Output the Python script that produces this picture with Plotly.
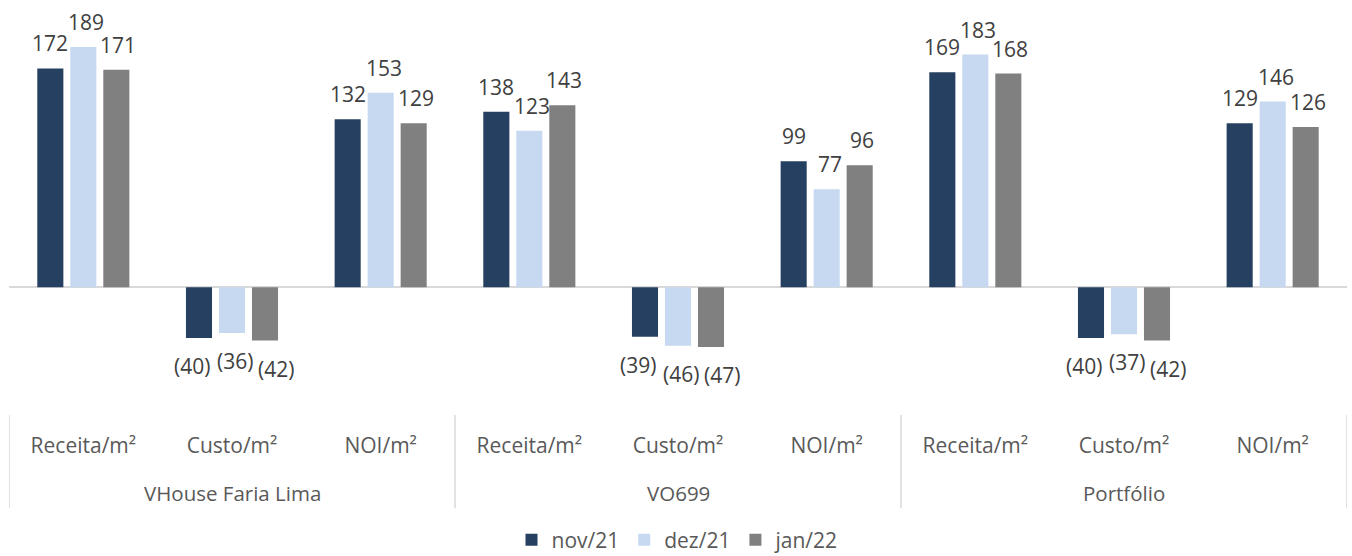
import plotly.graph_objects as go

groups = ["VHouse Faria Lima", "VO699", "Portfólio"]
metrics = ["Receita/m²", "Custo/m²", "NOI/m²"]
series_names = ["nov/21", "dez/21", "jan/22"]
nov21 = [172, -40, 132, 138, -39, 99, 169, -40, 129]
dez21 = [189, -36, 153, 123, -46, 77, 183, -37, 146]
jan22 = [171, -42, 129, 143, -47, 96, 168, -42, 126]
colors = ["#264061", "#C6D9F1", "#808080"]

series = [nov21, dez21, jan22]
cats = [m for g in groups for m in metrics]
xpos = list(range(len(cats)))

FONT = "Open Sans"
BARGAP = 0.334
slot = (1 - BARGAP) / 3
# small horizontal nudges (px) per series so neighbouring labels don't collide
NUDGE_POS = [0, 3, 2]
NUDGE_NEG = [-7, 3, 11]

fig = go.Figure()
for name, vals, col in zip(series_names, series, colors):
    fig.add_trace(go.Bar(x=xpos, y=vals, name=name, marker=dict(color=col, line=dict(width=0))))

annotations = []
for s, vals in enumerate(series):
    for i, v in enumerate(vals):
        txt = f"({abs(v)})" if v < 0 else f"{v}"
        annotations.append(dict(
            x=i + (s - 1) * slot, y=v, xref="x", yref="y", text=txt,
            showarrow=False, yanchor="middle", xanchor="center",
            yshift=25 if v >= 0 else -28,
            xshift=NUDGE_POS[s] if v >= 0 else NUDGE_NEG[s],
            font=dict(family=FONT, size=21, color="#404040")))

for gi, g in enumerate(groups):
    annotations.append(dict(
        x=gi * 3 + 1, y=-0.193, xref="x", yref="paper", text=g, showarrow=False,
        yanchor="middle", xanchor="center",
        font=dict(family=FONT, size=20.5, color="#595959")))

shapes = []
for b in [-0.5, 2.5, 5.5, 8.5]:
    shapes.append(dict(type="line", xref="x", yref="paper", x0=b, x1=b, y0=0, y1=-0.23,
                       line=dict(color="#d9d9d9", width=1.5)))

fig.update_layout(
    width=1352, height=556,
    margin=dict(l=9, r=5, t=10, b=141, autoexpand=False),
    barmode="group", bargap=BARGAP, bargroupgap=0.21,
    plot_bgcolor="white", paper_bgcolor="white",
    font=dict(family=FONT, size=20, color="#595959"),
    annotations=annotations, shapes=shapes,
    showlegend=True,
    legend=dict(orientation="h", x=0.5, xanchor="center", y=-0.309, yanchor="middle",
                font=dict(family=FONT, size=21, color="#595959"), itemwidth=30),
)
fig.update_xaxes(range=[-0.5, 8.5], tickmode="array", tickvals=xpos, ticktext=cats,
                 showgrid=False, zeroline=False, showline=False, ticks="", automargin=False,
                 ticklabelstandoff=16, tickfont=dict(family=FONT, size=21, color="#595959"))
fig.update_yaxes(range=[-100.5, 218], showgrid=False, showticklabels=False, ticks="",
                 automargin=False,
                 zeroline=True, zerolinecolor="#d9d9d9", zerolinewidth=1.5, showline=False)

fig.write_html("out.html", config={"displayModeBar": False},
               post_script="document.body.style.margin='0';document.body.style.overflow='hidden';")
